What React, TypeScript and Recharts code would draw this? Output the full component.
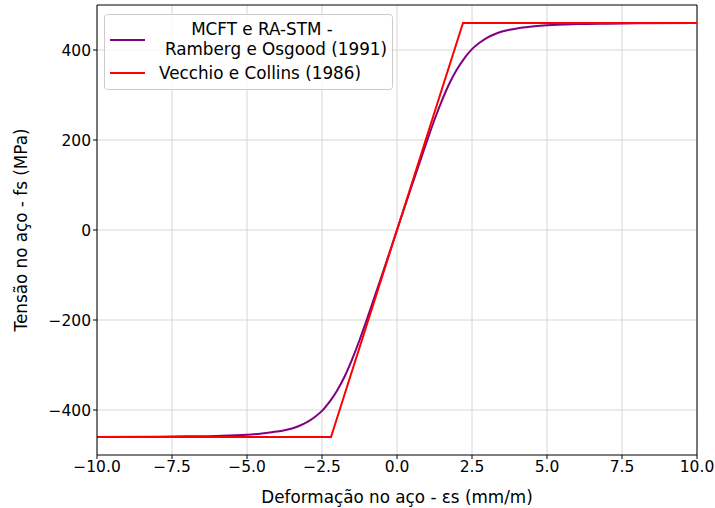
import React from 'react';
import { LineChart, Line, XAxis, YAxis, CartesianGrid, Legend, ReferenceLine } from 'recharts';

// strain (mm/m) and stress (MPa)
const rambergStrain = [
  -10, -8, -7, -6, -5, -4.5, -4, -3.75, -3.5, -3.25, -3, -2.75, -2.5, -2.25, -2, -1.75, -1.5, -1.25, -1, -0.5,
  0,
  0.5, 1, 1.25, 1.5, 1.75, 2, 2.25, 2.5, 2.75, 3, 3.25, 3.5, 3.75, 4, 4.5, 5, 6, 7, 8, 10,
];
const rambergStress = [
  -459.8, -459.2, -458.6, -457.6, -455, -452, -448, -445, -441, -435, -427, -416, -402, -382, -357, -326, -288, -245, -198, -100,
  0,
  100, 198, 245, 288, 326, 357, 382, 402, 416, 427, 435, 441, 445, 448, 452, 455, 457.6, 458.6, 459.2, 459.8,
];
const vecchioStrain = [-10, -2.2, 2.2, 10];
const vecchioStress = [-460, -460, 460, 460];

const xTicks = [-10, -7.5, -5, -2.5, 0, 2.5, 5, 7.5, 10];
const yTicks = [-400, -200, 0, 200, 400];

const ramberg = rambergStrain.map((x, i) => ({ x, y: rambergStress[i] }));
const vecchio = vecchioStrain.map((x, i) => ({ x, y: vecchioStress[i] }));

const FONT = 'DejaVu Sans, sans-serif';
const FS = 15.5;
const LS = 16.8;
const minus = (s: string) => s.replace('-', '\u2212');

function LegendBox() {
  return (
    <svg width={290} height={77} style={{ fontFamily: FONT, display: 'block' }}>
      <rect x={0.5} y={0.5} width={288} height={75} rx={3} fill="#fff" fillOpacity={0.8} stroke="#cccccc" />
      <line x1={6} x2={41} y1={26} y2={26} stroke="purple" strokeWidth={2} />
      <text x={158} y={21} textAnchor="middle" fontSize={LS} fill="#000">MCFT e RA-STM -</text>
      <text x={172} y={41} textAnchor="middle" fontSize={LS} fill="#000">Ramberg e Osgood (1991)</text>
      <line x1={6} x2={41} y1={59} y2={59} stroke="red" strokeWidth={2} />
      <text x={55} y={65} fontSize={LS} fill="#000">Vecchio e Collins (1986)</text>
    </svg>
  );
}

export default function App() {
  return (
    <div style={{ position: 'absolute', left: 0, top: 0, width: 715, height: 508, background: '#fff' }}>
      <LineChart
        width={715}
        height={508}
        margin={{ top: 5, right: 18, left: 0, bottom: 0 }}
        style={{ fontFamily: FONT }}
      >
        <CartesianGrid stroke="#d6d6d6" horizontalValues={yTicks} verticalValues={xTicks} />
        <XAxis
          type="number"
          dataKey="x"
          domain={[-10, 10]}
          ticks={xTicks}
          allowDataOverflow
          height={53}
          stroke="#000"
          tickSize={4}
          tick={{ fill: '#000', fontSize: FS }}
          tickFormatter={(v: number) => minus(v.toFixed(1))}
          label={{ value: 'Deformação no aço - εs (mm/m)', position: 'insideBottom', offset: 5, fill: '#000', fontSize: LS }}
        />
        <YAxis
          type="number"
          dataKey="y"
          domain={[-500, 500]}
          ticks={yTicks}
          allowDataOverflow
          width={97}
          stroke="#000"
          tickSize={4}
          tick={{ fill: '#000', fontSize: FS }}
          tickFormatter={(v: number) => minus(String(v))}
          label={{ value: 'Tensão no aço - fs (MPa)', angle: -90, position: 'insideLeft', offset: 21, fill: '#000', fontSize: LS, style: { textAnchor: 'middle' } }}
        />
        <ReferenceLine y={500} stroke="#000" />
        <ReferenceLine x={10} stroke="#000" />
        <Line
          data={ramberg}
          dataKey="y"
          type="monotone"
          stroke="purple"
          strokeWidth={2}
          dot={false}
          isAnimationActive={false}
          name="MCFT e RA-STM - Ramberg e Osgood (1991)"
        />
        <Line
          data={vecchio}
          dataKey="y"
          type="linear"
          stroke="red"
          strokeWidth={2}
          dot={false}
          isAnimationActive={false}
          name="Vecchio e Collins (1986)"
        />
        <Legend
          layout="horizontal"
          verticalAlign="middle"
          align="center"
          wrapperStyle={{ left: 104, top: 14, width: 290, height: 77 }}
          content={() => <LegendBox />}
        />
      </LineChart>
    </div>
  );
}
